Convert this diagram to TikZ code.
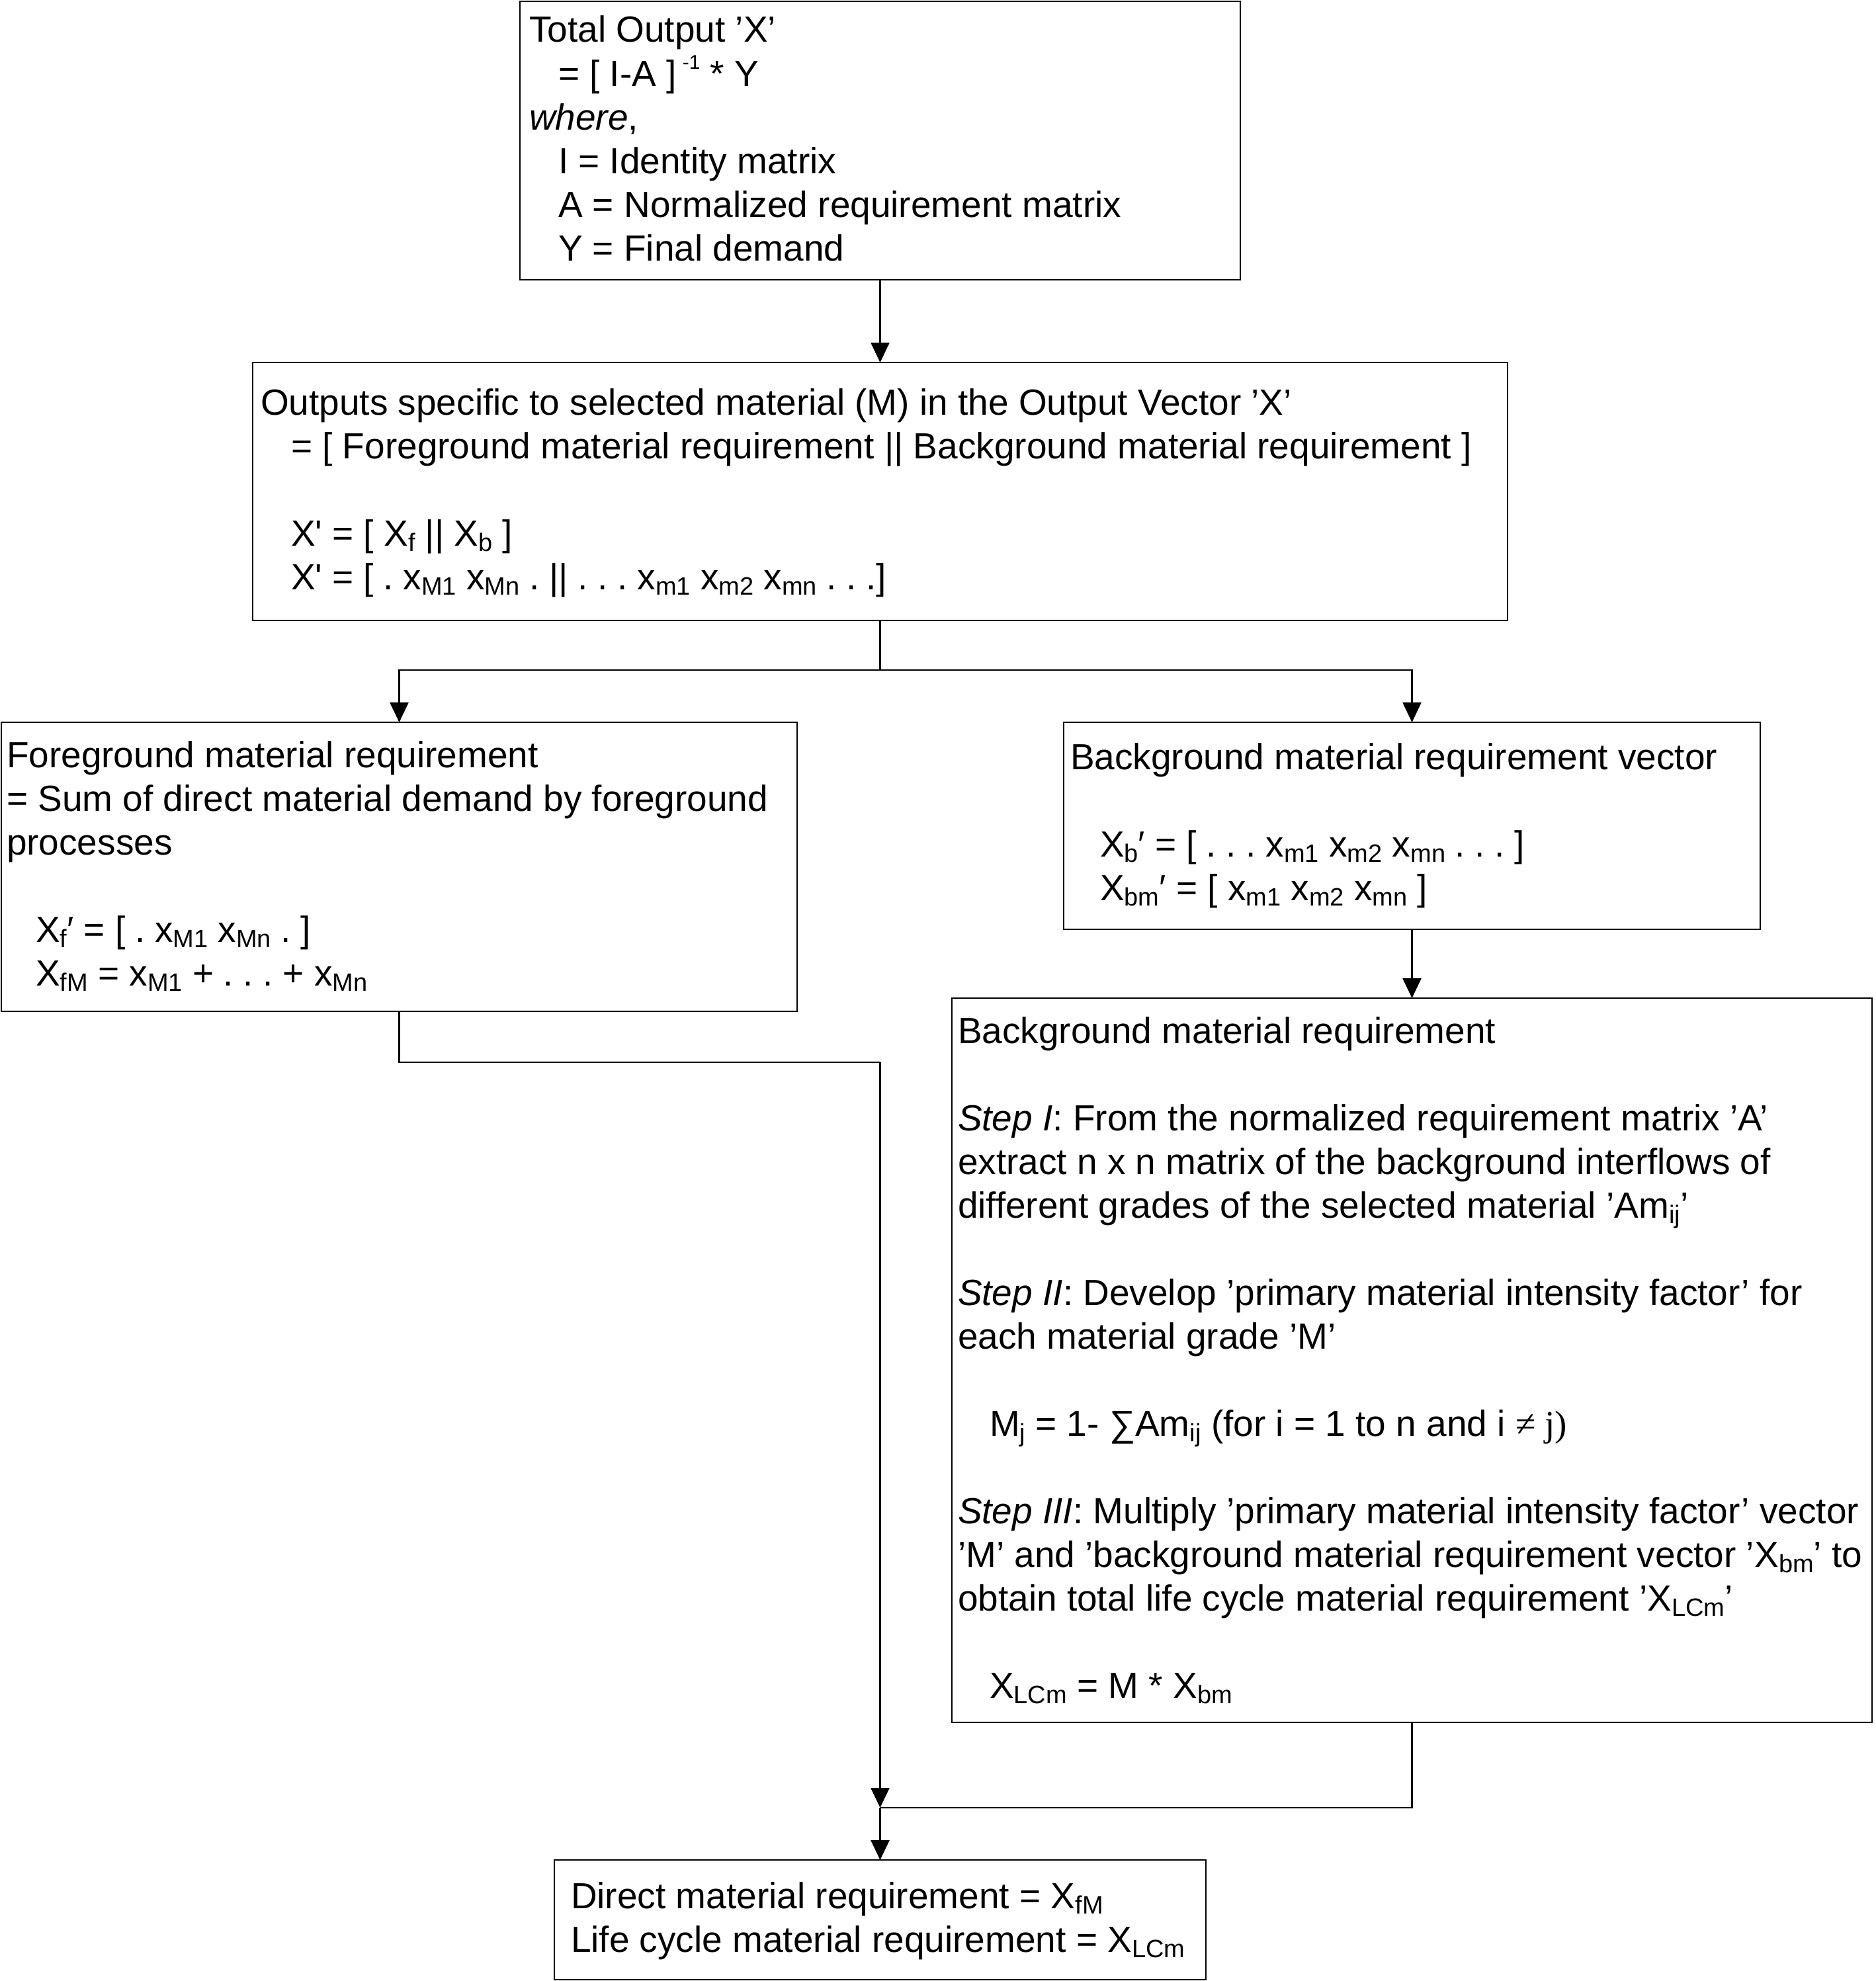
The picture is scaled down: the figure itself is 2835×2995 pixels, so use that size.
\documentclass[tikz,border=0pt]{standalone}
\usepackage{fontspec}
\setmainfont{Liberation Sans}
\newfontfamily\serifnf{Liberation Serif}
\usetikzlibrary{arrows.meta}
\newcommand\sbs[1]{\raisebox{-8pt}{\fontsize{38}{40}\selectfont #1}}
\newcommand\sps[1]{\raisebox{26pt}{\fontsize{30}{34}\selectfont #1}}
\newcommand\ds{\hspace{14.7pt}}
\tikzset{
  box/.style={draw, line width=2.5pt, anchor=north west, inner sep=0pt, outer sep=0pt},
  txt/.style={anchor=north west, inner sep=0pt, outer sep=0pt, align=left, font=\fontsize{55}{66}\selectfont},
  conn/.style={line width=2.5pt},
  arr/.style={-{Triangle[length=30pt,width=28pt]}}
}
\begin{document}
\begin{tikzpicture}[x=1pt,y=-1pt]
\useasboundingbox (0,0) rectangle (2835,2995);
% boxes
\node[box, minimum width=1089pt, minimum height=421pt] (b1) at (786,2) {};
\node[box, minimum width=1897pt, minimum height=390pt] (b2) at (382,548) {};
\node[box, minimum width=1203pt, minimum height=437pt] (b3) at (2,1092) {};
\node[box, minimum width=1053pt, minimum height=313pt] (b4) at (1608,1092) {};
\node[box, minimum width=1391pt, minimum height=1095pt] (b5) at (1439,1509) {};
\node[box, minimum width=985pt, minimum height=181pt] (b6) at (838,2812) {};
% texts
\node[txt] (t1) at (800,16.8) {\strut Total Output ’X’\\
\hspace*{44pt}= [ I-A ]\,\sps{-1} * Y\\
\textit{where},\\
\hspace*{44pt}I = Identity matrix\\
\hspace*{44pt}A = Normalized requirement matrix\\
\hspace*{44pt}Y = Final demand};
\node[txt] (t2) at (394,581) {\strut Outputs specific to selected material (M) in the Output Vector ’X’\\
\hspace*{46pt}= [ Foreground material requirement || Background material requirement ]\\[66pt]
\hspace*{46pt}X\textquotesingle{} = [ X\sbs{f} || X\sbs{b} ]\\
\hspace*{46pt}X\textquotesingle{} = [\ds.\ds x\sbs{M1} x\sbs{Mn}\ds.\ds||\ds.\ds.\ds.\ds x\sbs{m1} x\sbs{m2} x\sbs{mn}\ds.\ds.\ds.]};
\node[txt] (t3) at (10,1114) {\strut Foreground material requirement\\
= Sum of direct material demand by foreground\\
processes\\[66pt]
\hspace*{44pt}X\sbs{f}′ = [\ds.\ds x\sbs{M1} x\sbs{Mn}\ds.\ds]\\
\hspace*{44pt}X\sbs{fM} = x\sbs{M1} +\ds.\ds.\ds.\ds+ x\sbs{Mn}};
\node[txt] (t4) at (1618,1117) {\strut Background material requirement vector\\[66pt]
\hspace*{45pt}X\sbs{b}′ = [\ds.\ds.\ds.\ds x\sbs{m1} x\sbs{m2} x\sbs{mn}\ds.\ds.\ds.\ds]\\
\hspace*{45pt}X\sbs{bm}′ = [ x\sbs{m1} x\sbs{m2} x\sbs{mn} ]};
\node[txt] (t5) at (1448,1531) {\strut Background material requirement\\[66pt]
\textit{Step I}: From the normalized requirement matrix ’A’\\
extract n x n matrix of the background interflows of\\
different grades of the selected material ’Am\sbs{ij}’\\[66pt]
\textit{Step II}: Develop ’primary material intensity factor’ for\\
each material grade ’M’\\[66pt]
\hspace*{48pt}M\sbs{j} = 1- ∑Am\sbs{ij} (for i = 1 to n and i {\serifnf ≠ j)}\\[66pt]
\textit{Step III}: Multiply ’primary material intensity factor’ vector\\
’M’ and ’background material requirement vector ’X\sbs{bm}’ to\\
obtain total life cycle material requirement ’X\sbs{LCm}’\\[66pt]
\hspace*{48pt}X\sbs{LCm} = M * X\sbs{bm}};
\node[txt] (t6) at (863,2839) {\strut Direct material requirement = X\sbs{fM}\\
Life cycle material requirement = X\sbs{LCm}};
% connectors
\coordinate (s) at (1330.5,1013);
\coordinate (f) at (1330.5,1606);
\coordinate (j) at (1330.5,2733);
\draw[conn,arr] (b1.south) -- (b2.north);
\draw[conn] (b2.south) -- (s);
\draw[conn,arr] (s) -| (b3.north);
\draw[conn,arr] (s) -| (b4.north);
\draw[conn,arr] (b4.south) -- (b5.north);
\draw[conn] (b3.south) |- (f);
\draw[conn,arr] (f) -- (j);
\draw[conn] (b5.south) |- (j);
\draw[conn,arr] (j) -- (b6.north);
\end{tikzpicture}
\end{document}
